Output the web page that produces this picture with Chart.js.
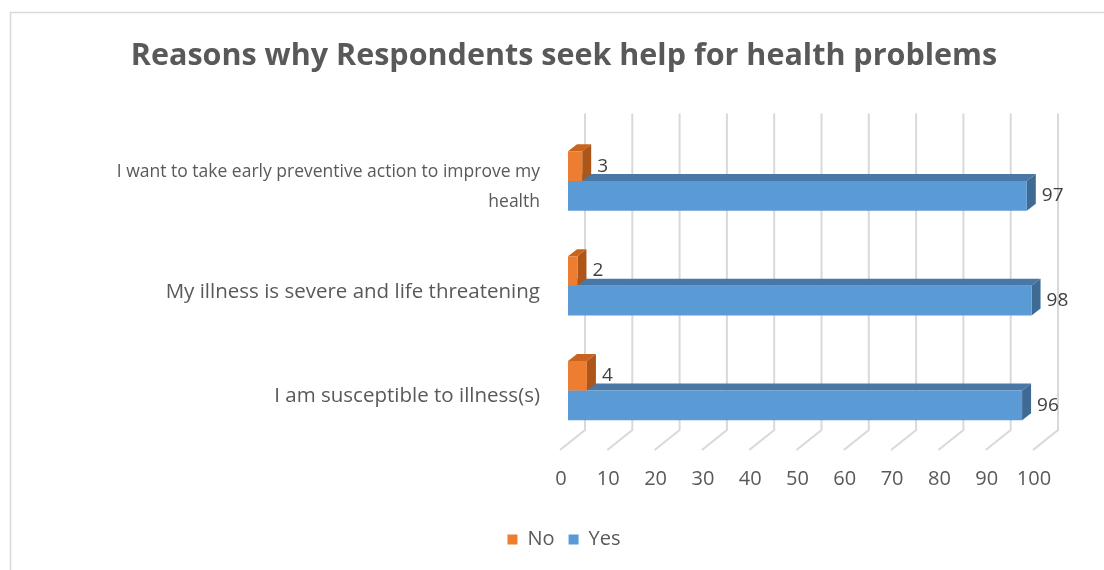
<!DOCTYPE html>
<html>
<head>
<meta charset="utf-8">
<script src="https://cdn.jsdelivr.net/npm/chart.js@4.4.1/dist/chart.umd.min.js"></script>
<style>
    html, body { margin: 0; padding: 0; background: #fff; overflow: hidden; }
    #wrap { position: absolute; left: 0; top: 0; width: 1128px; height: 570px; }
</style>
</head>
<body>
<div id="wrap"><canvas id="myChart"></canvas></div>
<script>
/////////// chart data ////////////////////
var categories = [
    ['I want to take early preventive action to improve my', 'health'],
    'My illness is severe and life threatening',
    'I am susceptible to illness(s)'
];
var noValues = [3, 2, 4];
var yesValues = [97, 98, 96];
var xTicks = [0, 10, 20, 30, 40, 50, 60, 70, 80, 90, 100];

var textGray = '#595959';
var fontName = "'Open Sans', 'DejaVu Sans', sans-serif";

// fake 3d depth for the bars (excel style)
var depthX = 9;
var depthY = -7;

var faceColors = {
    0: { top: '#c9641f', side: '#ad561a' },
    1: { top: '#4a78a6', side: '#3e6a94' }
};

// frame, back wall grid lines, bar faces and value labels
var backgroundPlugin = {
    id: 'backgroundPlugin',
    beforeDraw: function (chart) {
        var ctx = chart.ctx;
        ctx.save();
        ctx.fillStyle = '#fff';
        ctx.fillRect(0, 0, chart.width, chart.height);
        ctx.strokeStyle = '#d9d9d9';
        ctx.lineWidth = 1.5;
        ctx.strokeRect(10.5, 12.5, 1108, 600);
        ctx.restore();
    },
    beforeDatasetsDraw: function (chart) {
        var ctx = chart.ctx;
        var xScale = chart.scales.x;
        var top = chart.chartArea.top - 15;
        var bottom = chart.chartArea.bottom - 13;
        ctx.save();
        ctx.strokeStyle = '#d9d9d9';
        ctx.lineWidth = 2;
        xTicks.forEach(function (v) {
            var px = xScale.getPixelForValue(v) + 17;
            ctx.beginPath();
            ctx.moveTo(px, top);
            ctx.lineTo(px, bottom);
            ctx.lineTo(px - 25, bottom + 20);
            ctx.stroke();
        });

        // top + side faces, blue first so the orange bar sits on top of it
        [1, 0].forEach(function (di) {
            var meta = chart.getDatasetMeta(di);
            meta.data.forEach(function (bar) {
                var p = bar.getProps(['x', 'y', 'base', 'height'], true);
                var t = p.y - p.height / 2;
                var b = p.y + p.height / 2;
                ctx.fillStyle = faceColors[di].top;
                ctx.beginPath();
                ctx.moveTo(p.base, t);
                ctx.lineTo(p.base + depthX, t + depthY);
                ctx.lineTo(p.x + depthX, t + depthY);
                ctx.lineTo(p.x, t);
                ctx.closePath();
                ctx.fill();
                ctx.fillStyle = faceColors[di].side;
                ctx.beginPath();
                ctx.moveTo(p.x, t);
                ctx.lineTo(p.x + depthX, t + depthY);
                ctx.lineTo(p.x + depthX, b + depthY);
                ctx.lineTo(p.x, b);
                ctx.closePath();
                ctx.fill();
            });
        });
        ctx.restore();
    },
    afterDatasetsDraw: function (chart) {
        var ctx = chart.ctx;
        ctx.save();
        ctx.font = '19px ' + fontName;
        ctx.fillStyle = '#404040';
        ctx.textAlign = 'left';
        ctx.textBaseline = 'middle';
        chart.data.datasets.forEach(function (ds, di) {
            chart.getDatasetMeta(di).data.forEach(function (bar, i) {
                var p = bar.getProps(['x', 'y'], true);
                ctx.fillText(String(ds.data[i]), p.x + 15, p.y);
            });
        });
        ctx.restore();
    }
};

var ctx = document.getElementById('myChart').getContext('2d');
var myChart = new Chart(ctx, {
    type: 'bar',
    data: {
        labels: categories,
        datasets: [{
            label: 'No',
            data: noValues,
            yAxisID: 'y',
            backgroundColor: '#ED7D31',
            categoryPercentage: 0.566,
            barPercentage: 1
        }, {
            label: 'Yes',
            data: yesValues,
            yAxisID: 'y',
            backgroundColor: '#5B9BD5',
            categoryPercentage: 0.566,
            barPercentage: 1
        }]
    },
    options: {
        indexAxis: 'y',
        responsive: true,
        maintainAspectRatio: false,
        animation: false,
        layout: { padding: { left: 0, right: 0, top: 0, bottom: 10.5 } },
        scales: {
            x: {
                min: 0,
                max: 100,
                afterFit: function (scale) { scale.height = 72.5; },
                afterBuildTicks: function (scale) {
                    scale.ticks = xTicks.map(function (v) { return { value: v }; });
                },
                grid: { display: false, drawTicks: false },
                border: { display: false },
                ticks: {
                    color: textGray,
                    font: { family: fontName, size: 20 },
                    padding: 24,
                    labelOffset: -7,
                    maxRotation: 0
                }
            },
            y: {
                afterFit: function (scale) { scale.width = 568; },
                grid: { display: false, drawTicks: false },
                border: { display: false },
                ticks: {
                    color: textGray,
                    // excel squeezes the long two-line label a bit
                    font: function (c) {
                        if (c.index === 0) return { family: fontName, size: 17.5, lineHeight: 1.7 };
                        return { family: fontName, size: 20.5 };
                    },
                    padding: 28,
                    labelOffset: 6
                }
            },
            // empty axis, only keeps room on the right for the value labels
            yRight: {
                type: 'category',
                position: 'right',
                afterFit: function (scale) { scale.width = 87; },
                grid: { display: false, drawTicks: false },
                border: { display: false },
                ticks: { display: false }
            }
        },
        plugins: {
            title: {
                display: true,
                text: 'Reasons why Respondents seek help for health problems',
                color: textGray,
                font: { family: fontName, size: 30.5, weight: 'bold', lineHeight: 1.2 },
                padding: { top: 38, bottom: 54 }
            },
            legend: {
                position: 'bottom',
                labels: {
                    color: textGray,
                    font: { family: fontName, size: 20 },
                    boxWidth: 10,
                    boxHeight: 10,
                    padding: 14
                }
            },
            tooltip: { enabled: false }
        }
    },
    plugins: [backgroundPlugin]
});
</script>
</body>
</html>
